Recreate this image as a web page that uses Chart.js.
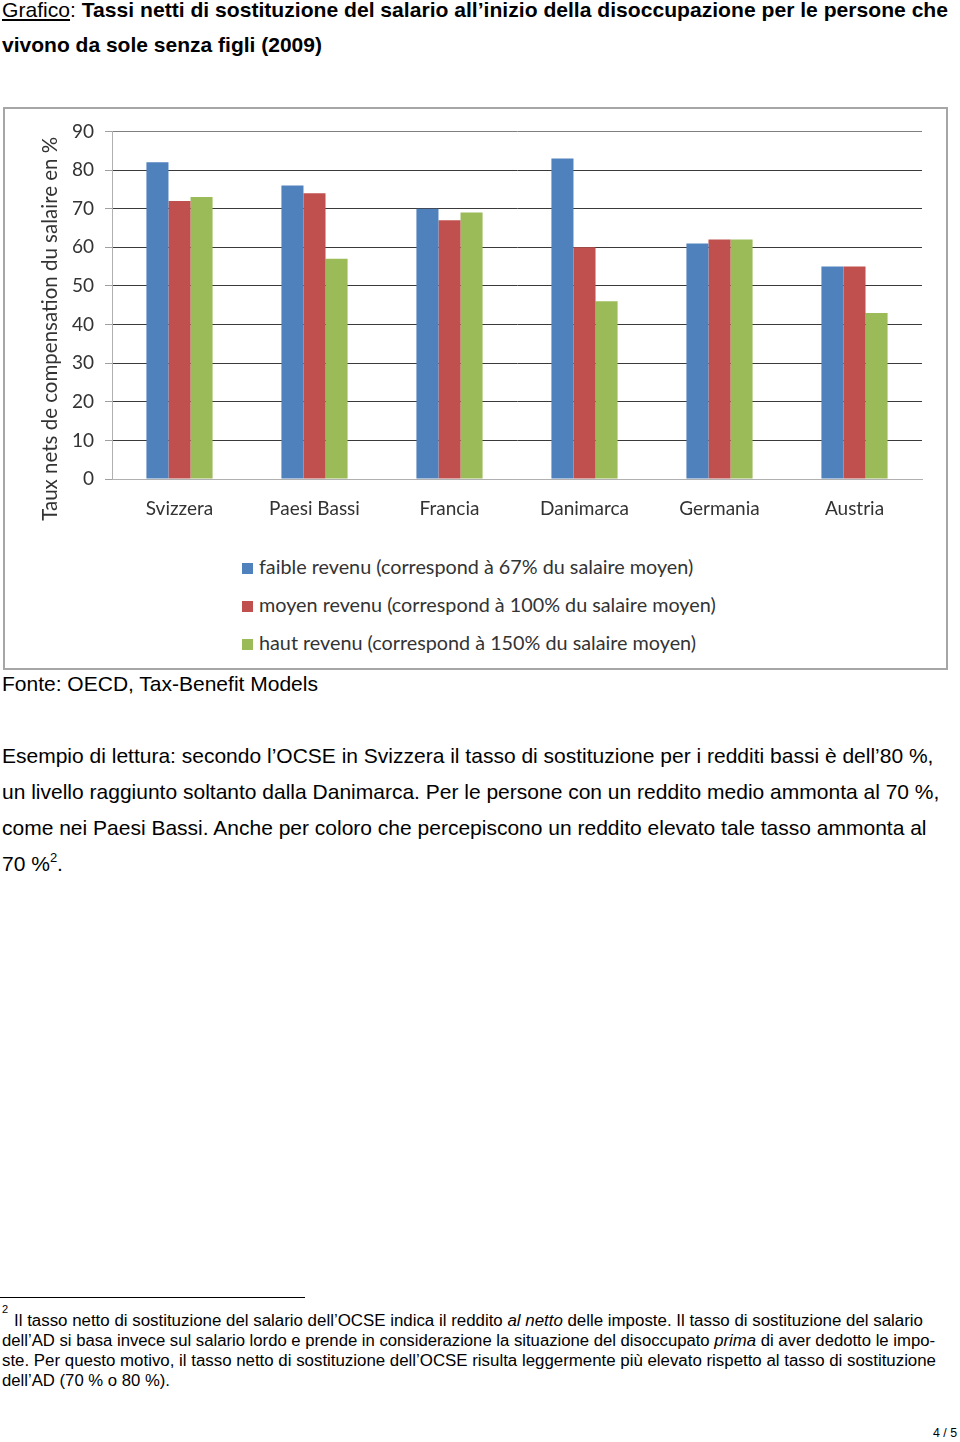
<!DOCTYPE html>
<html>
<head>
<meta charset="utf-8">
<script src="https://cdn.jsdelivr.net/npm/chart.js@4"></script>
<style>
  body { margin: 0; background: #fff; width: 960px; height: 1442px; position: relative; overflow: hidden;
         font-family: "Liberation Sans", Arial, sans-serif; color: #000; }
  .abs { position: absolute; }
  .fit { position: absolute; white-space: nowrap; transform-origin: 0 50%; }
  .t1, .t2 { font-size: 21px; line-height: 24px; }
  .t1 u { font-weight: normal; }
  #frame { left: 3px; top: 107px; width: 941px; height: 559px; border: 2px solid #a6a6a6; }
  #legend { left: 242px; top: 553px; font-family: Lato, "Open Sans", sans-serif; font-size: 19.8px; color: #333; }
  .leg-row { height: 38px; line-height: 26px; white-space: nowrap; }
  .leg-box { display: inline-block; width: 11px; height: 11px; margin-right: 6px; vertical-align: 0px; }
  #source { left: 2px; top: 672px; font-size: 21px; line-height: 24px; }
  #reading { left: 2px; top: 738px; font-size: 21px; line-height: 36px; width: 955px; white-space: nowrap; }
  #reading sup { font-size: 13px; vertical-align: 9px; line-height: 0; }
  #rule { left: 0; top: 1297px; width: 305px; height: 1px; background: #000; }
  .fn { font-size: 16px; line-height: 20px; }
  .fn-sup { font-size: 11px; }
</style>
</head>
<body>
<div class="fit t1" style="left:2px; top:-2px" data-w="946"><u>Grafico</u>: <b>Tassi netti di sostituzione del salario all’inizio della disoccupazione per le persone che</b></div>
<div class="fit t2" style="left:2px; top:33px" data-w="320"><b>vivono da sole senza figli (2009)</b></div>

<div id="frame" class="abs">
  <canvas id="chart" width="941" height="440"></canvas>
</div>
<div id="legend" class="abs"></div>

<div id="source" class="abs">Fonte: OECD, Tax-Benefit Models</div>

<div id="reading" class="abs">Esempio di lettura: secondo l’OCSE in Svizzera il tasso di sostituzione per i redditi bassi è dell’80 %,<br>un livello raggiunto soltanto dalla Danimarca. Per le persone con un reddito medio ammonta al 70 %,<br>come nei Paesi Bassi. Anche per coloro che percepiscono un reddito elevato tale tasso ammonta al<br>70 %<sup>2</sup>.</div>

<div id="rule" class="abs"></div>
<div class="fit fn-sup" style="left:2px; top:1303px">2</div>
<div class="fit fn" style="left:14px; top:1311px" data-w="909">Il tasso netto di sostituzione del salario dell’OCSE indica il reddito <i>al netto</i> delle imposte. Il tasso di sostituzione del salario</div>
<div class="fit fn" style="left:2px; top:1331px" data-w="933">dell’AD si basa invece sul salario lordo e prende in considerazione la situazione del disoccupato <i>prima</i> di aver dedotto le impo-</div>
<div class="fit fn" style="left:2px; top:1351px" data-w="934">ste. Per questo motivo, il tasso netto di sostituzione dell’OCSE risulta leggermente più elevato rispetto al tasso di sostituzione</div>
<div class="fit fn" style="left:2px; top:1371px" data-w="168">dell’AD (70 % o 80 %).</div>

<div class="fit" data-w="24" style="left:933px; top:1426px; font-size:12px">4 / 5</div>

<script>
// data
const countries = ["Svizzera", "Paesi Bassi", "Francia", "Danimarca", "Germania", "Austria"];
const lowIncome = [82, 76, 70, 83, 61, 55];
const midIncome = [72, 74, 67, 60, 62, 55];
const highIncome = [73, 57, 69, 46, 62, 43];
const seriesNames = [
  "faible revenu (correspond à 67% du salaire moyen)",
  "moyen revenu (correspond à 100% du salaire moyen)",
  "haut revenu (correspond à 150% du salaire moyen)"
];
const seriesColors = ["#4F81BD", "#C0504D", "#9BBB59"];
const yTitle = "Taux nets de compensation du salaire en %";

const chartFont = "Lato";

// the original page uses a narrow Arial, squeeze Liberation Sans to the same widths
document.querySelectorAll(".fit[data-w]").forEach(el => {
  const natural = el.getBoundingClientRect().width;
  el.style.transform = `scaleX(${el.dataset.w / natural})`;
});

const chartData = {
  labels: countries,
  datasets: [lowIncome, midIncome, highIncome].map((vals, i) => ({
    label: seriesNames[i],
    data: vals,
    backgroundColor: seriesColors[i],
    borderWidth: 0,
    barPercentage: 1,
    categoryPercentage: 0.49
  }))
};

const chartOptions = {
  responsive: false,
  animation: false,
  layout: { padding: { left: 33, right: 24, top: 20, bottom: 0 } },
  plugins: {
    legend: { display: false },
    tooltip: { enabled: false }
  },
  scales: {
    x: {
      grid: { display: false, drawTicks: false },
      border: { color: "#b0b0b0", width: 1 },
      ticks: { color: "#333", padding: 18, font: { family: chartFont, size: 19 } },
      afterFit: scale => { scale.height = 70; }
    },
    y: {
      min: 0,
      max: 90,
      ticks: { stepSize: 10, color: "#333", padding: 11, font: { family: chartFont, size: 19 } },
      grid: {
        color: ctx => ctx.tick && ctx.tick.value === 90 ? "#808080" : (ctx.tick && ctx.tick.value === 0 ? "#b0b0b0" : "#3a3a3a"),
        tickColor: "#a0a0a0",
        tickLength: 7,
        lineWidth: 1
      },
      border: { color: "#b0b0b0", width: 1 },
      title: {
        display: true,
        // trailing blanks push the centred title down a little, as in the original
        text: yTitle + "\u00a0".repeat(9),
        color: "#333",
        padding: { top: 0, bottom: 0 },
        font: { family: chartFont, size: 20.5 }
      },
      afterFit: scale => { scale.width = 74; }
    }
  }
};

const chart = new Chart(document.getElementById("chart"), {
  type: "bar",
  data: chartData,
  options: chartOptions
});

// legend (vertical list, like the Excel original)
const legend = document.getElementById("legend");
seriesNames.forEach((name, i) => {
  const row = document.createElement("div");
  row.className = "leg-row";
  row.innerHTML = `<span class="leg-box" style="background:${seriesColors[i]}"></span>${name}`;
  legend.appendChild(row);
});
</script>
</body>
</html>
